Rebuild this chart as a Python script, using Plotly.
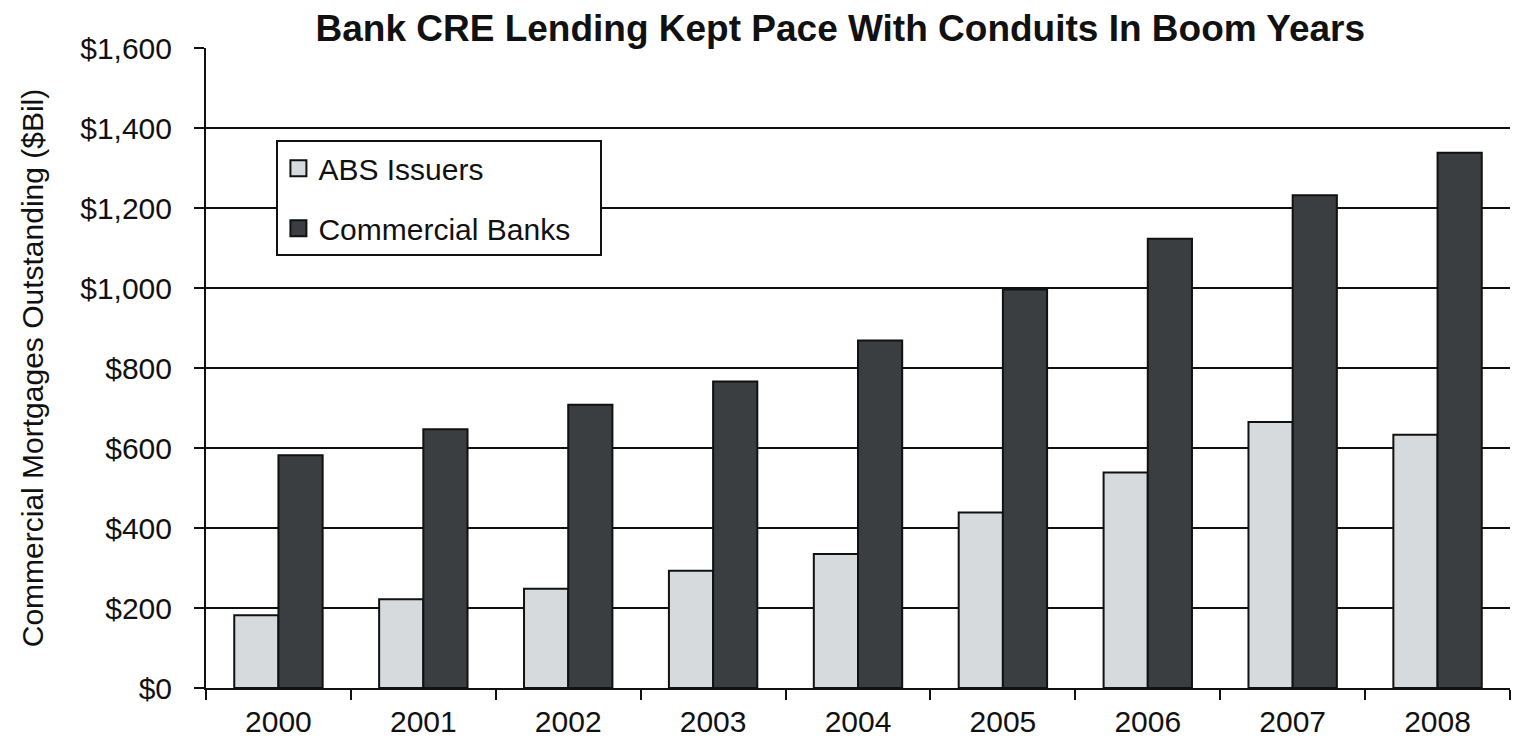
import plotly.graph_objects as go

years = ["2000", "2001", "2002", "2003", "2004", "2005", "2006", "2007", "2008"]
abs_issuers = [182, 222, 248, 293, 335, 439, 539, 665, 633]
commercial_banks = [582, 647, 708, 766, 869, 996, 1123, 1232, 1338]
y_ticks = [0, 200, 400, 600, 800, 1000, 1200, 1400, 1600]
y_tick_labels = ["$0", "$200", "$400", "$600", "$800", "$1,000", "$1,200", "$1,400", "$1,600"]
grid_values = [200, 400, 600, 800, 1000, 1200, 1400]

FONT = "Liberation Sans, Arial, sans-serif"
ABS_COLOR = "#d6dadd"
BANK_COLOR = "#3b3e40"
EDGE = "#111111"

fig = go.Figure()
fig.add_trace(go.Bar(
    x=years, y=abs_issuers, name="ABS Issuers", showlegend=False,
    marker=dict(color=ABS_COLOR, line=dict(color=EDGE, width=2)),
))
fig.add_trace(go.Bar(
    x=years, y=commercial_banks, name="Commercial Banks", showlegend=False,
    marker=dict(color=BANK_COLOR, line=dict(color=EDGE, width=2)),
))
# legend entries with larger square symbols
for nm, col, grp in [("ABS Issuers", ABS_COLOR, "a"),
                     ("Commercial Banks\u00a0\u00a0\u00a0", BANK_COLOR, "b")]:
    fig.add_trace(go.Scatter(
        x=[None], y=[None], mode="markers", name=nm, legendgroup=grp,
        marker=dict(symbol="square", size=20, color=col, line=dict(color=EDGE, width=2)),
    ))

for v in grid_values:
    fig.add_shape(type="line", xref="paper", x0=0, x1=1, yref="y", y0=v, y1=v,
                  line=dict(color=EDGE, width=2), layer="below")

fig.update_layout(
    width=1514, height=753,
    margin=dict(l=206, r=4, t=48, b=65),
    paper_bgcolor="white", plot_bgcolor="white",
    barmode="group", bargap=0.39, bargroupgap=0,
    font=dict(family=FONT, color=EDGE, size=29),
    title=dict(text="<b>Bank CRE Lending Kept Pace With Conduits In Boom Years</b>",
               x=0.555, xanchor="center", y=0.963, yanchor="middle",
               font=dict(size=37, family=FONT, color=EDGE)),
    legend=dict(x=0.054, y=0.856, xanchor="left", yanchor="top",
                bgcolor="white", bordercolor=EDGE, borderwidth=2,
                font=dict(size=30, family=FONT), tracegroupgap=18,
                traceorder="grouped", itemwidth=30),
    xaxis=dict(
        type="category", showgrid=False, showline=True, linecolor=EDGE, linewidth=2,
        ticks="outside", tickson="boundaries", ticklen=10, tickwidth=2, tickcolor=EDGE,
        tickfont=dict(size=30, family=FONT), ticklabelstandoff=6,
    ),
    yaxis=dict(
        range=[0, 1600], tickvals=y_ticks, ticktext=y_tick_labels,
        showgrid=False, zeroline=False, showline=True, linecolor=EDGE, linewidth=2,
        ticks="outside", ticklen=10, tickwidth=2, tickcolor=EDGE,
        tickfont=dict(size=30, family=FONT), ticklabelstandoff=16,
        title=dict(text="Commercial Mortgages Outstanding ($Bil)", standoff=28,
                   font=dict(size=30, family=FONT)),
    ),
)

fig.write_html("out.html")
